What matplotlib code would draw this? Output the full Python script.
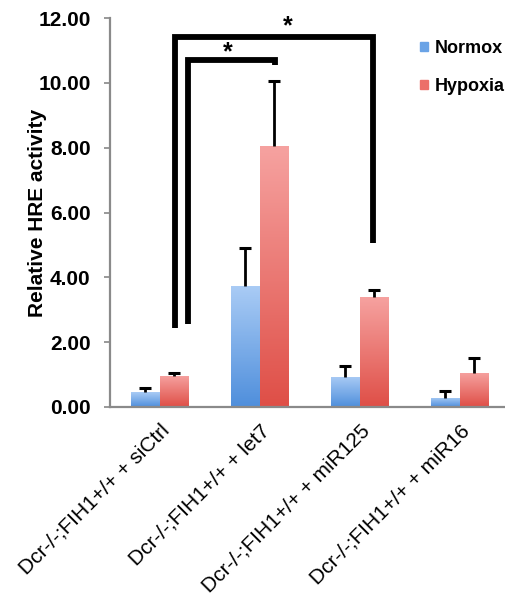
import matplotlib
matplotlib.use("Agg")
import matplotlib.pyplot as plt
import numpy as np
from matplotlib.colors import LinearSegmentedColormap
from matplotlib.patches import Patch

plt.rcParams['font.family'] = ['Liberation Sans', 'DejaVu Sans']

categories = ['Dcr-/-;FIH1+/+ + siCtrl', 'Dcr-/-;FIH1+/+ + let7',
              'Dcr-/-;FIH1+/+ + miR125', 'Dcr-/-;FIH1+/+ + miR16']
normox = [0.46, 3.73, 0.93, 0.28]
normox_err = [0.12, 1.17, 0.34, 0.22]
hypoxia = [0.96, 8.06, 3.40, 1.05]
hypoxia_err = [0.09, 2.00, 0.20, 0.47]

# significance brackets: (x left, x right, y top, y left end, y right end)
brackets = [(0.15, 2.13, 11.42, 2.44, 5.06),
            (0.28, 1.15, 10.70, 2.56, 10.55)]
star_pos = [(1.28, 11.75), (0.68, 10.95)]

blue_cmap = LinearSegmentedColormap.from_list('b', ['#4f8fdc', '#a9cbf5'])
red_cmap = LinearSegmentedColormap.from_list('r', ['#df4f47', '#f6a2a0'])

fig = plt.figure(figsize=(5.06, 5.96), dpi=100)
ax = fig.add_axes([110 / 506, 189 / 596, 400 / 506, 389 / 596])

x = np.arange(len(categories))
w = 0.29
grad = np.linspace(0, 1, 100).reshape(-1, 1)


def gradient_bars(xpos, vals, errs, cmap, base):
    bars = ax.bar(xpos, vals, w, color=base, zorder=2, linewidth=0)
    tops = np.array(vals) + np.array(errs)
    # upper-only error bars
    ax.vlines(xpos, vals, tops, color='black', lw=2, zorder=3)
    ax.plot(xpos, tops, linestyle='none', marker='_', markersize=8,
            markeredgewidth=2.2, color='black', zorder=3)
    for b in bars:
        x0, y0 = b.get_x(), b.get_y()
        im = ax.imshow(grad, extent=[x0, x0 + b.get_width(), y0, y0 + b.get_height()],
                       origin='lower', cmap=cmap, aspect='auto', zorder=2.5)
        im.set_clip_path(b)


gradient_bars(x - w / 2, normox, normox_err, blue_cmap, '#7aaeea')
gradient_bars(x + w / 2, hypoxia, hypoxia_err, red_cmap, '#ec7a74')

for xl, xr, yt, yl, yr in brackets:
    ax.plot([xl, xl, xr, xr], [yl, yt, yt, yr], color='black', lw=4.2,
            solid_joinstyle='miter', solid_capstyle='butt', zorder=4, clip_on=False)
for sx, sy in star_pos:
    ax.text(sx, sy, '*', ha='center', va='center', fontsize=18, fontweight='bold')

ax.set_xlim(-0.5, 3.5)
ax.set_ylim(0, 12)
ax.set_yticks(np.arange(0, 12.1, 2))
ax.set_yticklabels(['%.2f' % v for v in np.arange(0, 12.1, 2)],
                   fontsize=15, fontweight='bold')
ax.set_xticks(x)
ax.set_xticklabels(categories, rotation=45, ha='right', rotation_mode='anchor',
                   fontsize=15)
ax.tick_params(axis='x', length=0, pad=10)
ax.tick_params(axis='y', length=4, color='#888888', width=1.2, pad=10)
for s in ['top', 'right']:
    ax.spines[s].set_visible(False)
for s in ['left', 'bottom']:
    ax.spines[s].set_color('#8a8a8a')
    ax.spines[s].set_linewidth(1.6)

ax.set_ylabel('Relative HRE activity', fontsize=15, fontweight='bold')
ax.yaxis.set_label_coords(-0.158, 0.5)

handles = [Patch(color='#6aa3e6', label='Normox'), Patch(color='#ec6f69', label='Hypoxia')]
fig.legend(handles=handles, loc='upper left', bbox_to_anchor=(411 / 506, 1 - 31 / 596),
           frameon=False, handlelength=0.45, handleheight=0.45,
           handletextpad=0.35, labelspacing=1.15, borderpad=0,
           prop={'size': 13, 'weight': 'bold'})

fig.savefig('out.png', dpi=100)
